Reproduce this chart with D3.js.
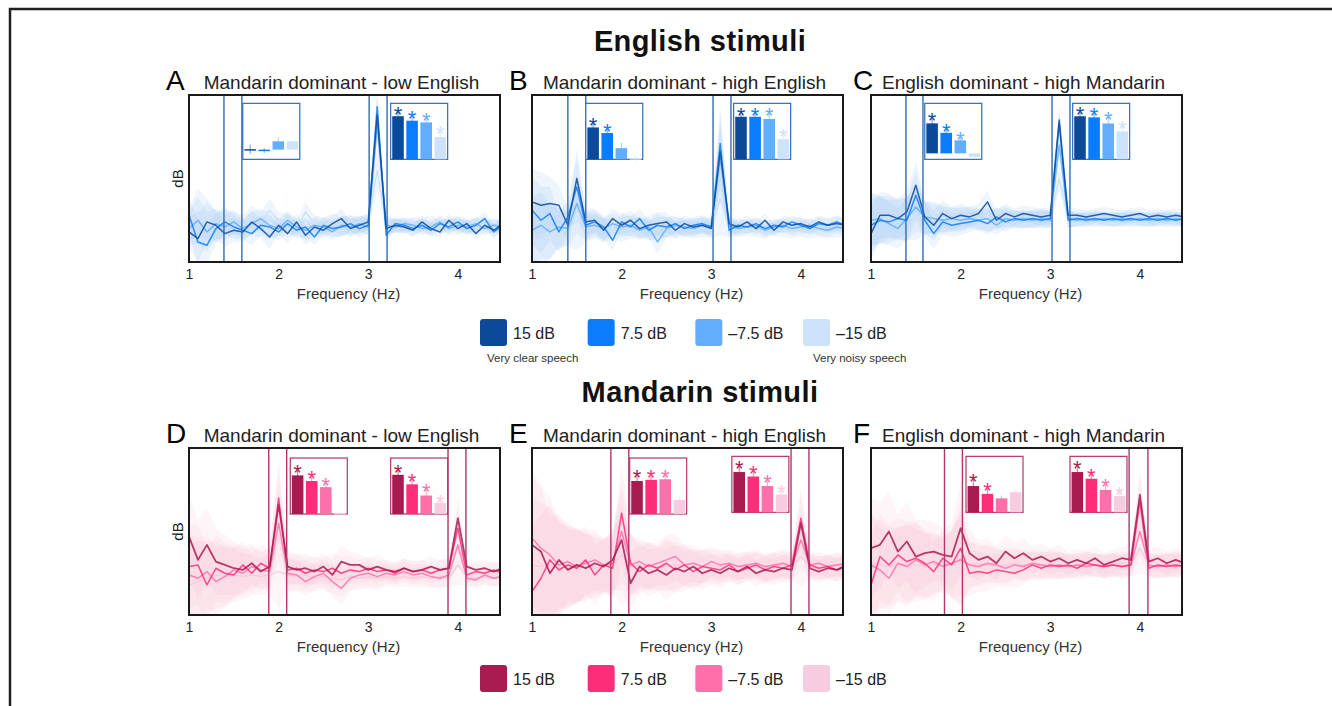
<!DOCTYPE html>
<html>
<head>
<meta charset="utf-8">
<script src="https://cdn.jsdelivr.net/npm/d3@7"></script>
<style>
  body { margin: 0; background: #fff; }
  svg { display: block; font-family: 'Liberation Sans', Arial, sans-serif; }
</style>
</head>
<body>
<svg id="chart" width="1332" height="706"></svg>
<script>
'use strict';

// frequency grid (Hz) shared by every spectrum
const freqs = [1.0, 1.1, 1.2, 1.3, 1.4, 1.5, 1.6, 1.7, 1.8, 1.9, 2.0, 2.1, 2.2, 2.3, 2.4, 2.5, 2.6, 2.7,
  2.8, 2.9, 3.0, 3.1, 3.2, 3.3, 3.4, 3.5, 3.6, 3.7, 3.8, 3.9, 4.0, 4.1, 4.2, 4.3, 4.4, 4.5];
const xTicks = [1, 2, 3, 4];
const levels = ['15 dB', '7.5 dB', '–7.5 dB', '–15 dB'];
const blues = ['#0b4a99', '#0a7cff', '#62aefc', '#cde3fb'];
const pinks = ['#a81b50', '#fe2d79', '#ff70ab', '#f8cce0'];
const panelLetters = ['A', 'B', 'C', 'D', 'E', 'F'];
const panelTitles = ['Mandarin dominant - low English', 'Mandarin dominant - high English',
  'English dominant - high Mandarin'];
const rowTitles = ['English stimuli', 'Mandarin stimuli'];

// rows: 15 dB, 7.5 dB, -7.5 dB, -15 dB (arbitrary dB units, 0-100 = plot height)
const spectrumA = [
  [18, 14, 24, 22, 17, 19, 18, 24, 20, 15, 22, 17, 24, 16, 21, 19, 23, 26, 20, 22, 24, 88, 20, 22, 21, 19, 24, 20, 18, 25, 20, 23, 17, 22, 19, 23],
  [28, 12, 10, 20, 24, 21, 19, 17, 22, 21, 18, 23, 19, 21, 15, 22, 20, 21, 23, 20, 22, 93, 16, 23, 22, 20, 22, 19, 23, 21, 24, 20, 22, 26, 18, 22],
  [20, 25, 18, 23, 21, 24, 20, 23, 26, 22, 20, 25, 21, 19, 22, 21, 18, 22, 21, 23, 21, 82, 22, 21, 23, 22, 20, 21, 24, 20, 22, 21, 23, 20, 22, 21],
  [22, 30, 26, 21, 25, 23, 22, 27, 24, 31, 25, 23, 20, 30, 23, 22, 24, 21, 23, 22, 24, 55, 23, 22, 21, 23, 22, 24, 21, 22, 23, 21, 22, 23, 21, 22]];
const semA = [10, 14, 12, 9, 8, 7, 6, 7, 6, 7, 5, 6, 5, 6, 5, 5, 5, 6, 5, 5, 5, 12, 5, 4, 4, 4, 4, 4, 4, 4, 4, 4, 4, 4, 4, 4];

const spectrumB = [
  [36, 34, 35, 34, 22, 50, 24, 25, 19, 26, 22, 25, 20, 22, 23, 24, 19, 23, 21, 22, 20, 66, 23, 21, 24, 20, 25, 19, 24, 22, 23, 21, 24, 22, 23, 22],
  [31, 25, 29, 18, 27, 45, 22, 24, 21, 13, 24, 21, 26, 19, 22, 21, 23, 20, 22, 23, 21, 71, 19, 22, 21, 23, 20, 22, 21, 24, 22, 20, 23, 22, 24, 22],
  [19, 22, 18, 21, 20, 35, 21, 22, 20, 23, 21, 22, 19, 21, 12, 20, 22, 21, 20, 22, 21, 62, 22, 20, 21, 22, 19, 21, 22, 20, 21, 22, 20, 19, 21, 20],
  [13, 16, 18, 20, 19, 25, 20, 21, 19, 20, 18, 20, 21, 19, 20, 21, 19, 20, 19, 20, 19, 38, 20, 19, 20, 19, 18, 20, 19, 18, 19, 18, 19, 18, 19, 18]];
const semB = [20, 20, 16, 12, 10, 18, 8, 7, 7, 6, 6, 6, 6, 6, 7, 6, 5, 5, 5, 5, 5, 22, 5, 4, 4, 4, 4, 4, 4, 4, 4, 4, 4, 4, 4, 4];

const spectrumC = [
  [17, 28, 28, 26, 30, 46, 27, 22, 29, 26, 28, 27, 29, 36, 25, 29, 27, 29, 28, 27, 28, 85, 28, 28, 27, 28, 29, 28, 27, 28, 29, 27, 28, 27, 28, 27],
  [22, 25, 24, 26, 25, 40, 25, 17, 24, 22, 23, 24, 25, 23, 27, 24, 26, 25, 26, 25, 26, 83, 25, 26, 25, 26, 25, 26, 25, 26, 25, 26, 25, 26, 25, 26],
  [25, 26, 23, 20, 26, 33, 27, 26, 25, 26, 25, 26, 25, 26, 22, 26, 25, 26, 25, 26, 25, 70, 26, 25, 26, 25, 26, 25, 26, 25, 26, 25, 26, 25, 26, 25],
  [26, 25, 27, 25, 26, 28, 26, 27, 26, 25, 26, 27, 26, 25, 26, 27, 26, 25, 26, 27, 26, 50, 26, 25, 26, 27, 26, 25, 26, 27, 26, 25, 26, 27, 26, 25]];
const semC = [16, 14, 13, 12, 13, 15, 10, 9, 8, 7, 7, 6, 6, 7, 6, 6, 5, 5, 5, 5, 5, 8, 5, 4, 4, 4, 4, 4, 4, 4, 4, 4, 4, 4, 4, 4];

const spectrumD = [
  [47, 33, 42, 32, 30, 28, 27, 31, 26, 29, 66, 29, 27, 28, 26, 29, 24, 32, 30, 30, 27, 29, 27, 26, 28, 26, 27, 29, 27, 28, 58, 29, 27, 28, 26, 28],
  [29, 30, 18, 28, 25, 24, 30, 25, 31, 28, 70, 27, 28, 25, 27, 26, 28, 25, 27, 26, 28, 26, 27, 25, 28, 26, 27, 25, 27, 28, 52, 24, 26, 25, 27, 25],
  [24, 22, 26, 20, 23, 27, 25, 29, 27, 26, 55, 25, 24, 20, 23, 25, 20, 16, 22, 24, 25, 23, 25, 24, 26, 24, 25, 23, 22, 24, 42, 22, 21, 24, 22, 23],
  [18, 20, 22, 24, 23, 24, 23, 24, 23, 24, 26, 24, 23, 24, 22, 23, 22, 21, 23, 22, 23, 22, 23, 22, 23, 22, 23, 22, 23, 22, 30, 23, 22, 23, 22, 23]];
const semD = [25, 24, 22, 20, 18, 16, 14, 12, 11, 12, 22, 10, 9, 9, 8, 8, 9, 10, 8, 7, 7, 7, 6, 6, 6, 6, 6, 6, 6, 6, 12, 5, 5, 5, 5, 5];

const spectrumE = [
  [42, 38, 25, 33, 27, 30, 28, 31, 29, 33, 45, 19, 29, 25, 27, 24, 28, 26, 29, 25, 27, 25, 28, 26, 29, 25, 27, 26, 28, 27, 55, 28, 26, 28, 27, 29],
  [14, 22, 33, 27, 30, 28, 33, 24, 30, 28, 61, 31, 26, 30, 28, 31, 27, 30, 26, 29, 28, 27, 30, 26, 28, 30, 27, 29, 28, 30, 58, 30, 28, 29, 27, 30],
  [46, 40, 36, 30, 32, 29, 31, 33, 30, 31, 50, 30, 32, 29, 31, 33, 35, 30, 31, 29, 32, 30, 31, 29, 30, 31, 29, 30, 31, 29, 45, 30, 31, 29, 30, 31],
  [30, 29, 30, 28, 29, 30, 29, 28, 29, 30, 36, 29, 30, 29, 28, 29, 30, 29, 28, 29, 30, 29, 28, 29, 30, 29, 28, 29, 30, 29, 35, 29, 28, 29, 30, 29]];
const semE = [40, 38, 34, 28, 24, 22, 20, 18, 16, 18, 30, 18, 14, 14, 13, 15, 14, 12, 11, 10, 9, 9, 8, 8, 8, 8, 8, 8, 8, 8, 18, 7, 7, 7, 7, 7];

const spectrumF = [
  [40, 42, 50, 38, 44, 35, 37, 38, 36, 35, 52, 37, 33, 35, 31, 38, 34, 37, 33, 35, 32, 34, 31, 33, 31, 34, 30, 32, 34, 33, 72, 32, 34, 31, 33, 31],
  [18, 35, 30, 36, 32, 34, 31, 26, 34, 30, 40, 25, 26, 25, 27, 26, 25, 27, 30, 28, 30, 29, 30, 28, 31, 30, 29, 30, 29, 30, 68, 28, 30, 29, 30, 29],
  [30, 27, 22, 31, 29, 33, 30, 32, 29, 31, 33, 30, 29, 31, 30, 28, 30, 29, 31, 30, 29, 30, 29, 30, 29, 30, 29, 30, 29, 30, 50, 30, 29, 30, 29, 30],
  [31, 30, 29, 30, 31, 30, 29, 30, 31, 30, 34, 30, 31, 30, 29, 30, 31, 30, 29, 30, 31, 30, 29, 30, 31, 30, 29, 30, 31, 30, 40, 30, 29, 30, 31, 30]];
const semF = [30, 26, 24, 22, 24, 22, 20, 18, 16, 20, 28, 14, 12, 11, 10, 10, 9, 9, 8, 8, 8, 8, 7, 7, 7, 7, 7, 7, 7, 7, 15, 7, 7, 7, 7, 7];

// analysis windows (Hz) marked on each panel
const windowsA = [[1.39, 1.59], [3.01, 3.21]];
const windowsB = [[1.40, 1.60], [3.02, 3.22]];
const windowsC = [[1.39, 1.58], [3.02, 3.22]];
const windowsD = [[1.89, 2.09], [3.89, 4.09]];
const windowsE = [[1.88, 2.08], [3.89, 4.09]];
const windowsF = [[1.82, 2.02], [3.88, 4.09]];

// inset bar charts: one per window, value per SNR level (inset height = 1)
const barsA = [[0.01, -0.02, 0.18, 0.18], [0.77, 0.69, 0.66, 0.40]];
const barsB = [[0.57, 0.47, 0.20, 0.02], [0.76, 0.76, 0.72, 0.36]];
const barsC = [[0.60, 0.41, 0.26, -0.07], [0.77, 0.75, 0.64, 0.50]];
const barsD = [[0.69, 0.59, 0.48, 0.02], [0.70, 0.53, 0.33, 0.20]];
const barsE = [[0.59, 0.61, 0.62, 0.25], [0.72, 0.64, 0.47, 0.32]];
const barsF = [[0.47, 0.33, 0.25, 0.36], [0.72, 0.60, 0.40, 0.29]];
const errA = [[0.10, 0.05, 0.08, 0.03], [0.08, 0.08, 0.08, 0.10]];
const errB = [[0.08, 0.08, 0.10, 0.05], [0.07, 0.07, 0.10, 0.10]];
const errC = [[0.10, 0.08, 0.07, 0.03], [0.07, 0.08, 0.12, 0.10]];
const errD = [[0.10, 0.08, 0.07, 0.02], [0.08, 0.10, 0.12, 0.05]];
const errE = [[0.10, 0.08, 0.08, 0.05], [0.10, 0.10, 0.10, 0.08]];
const errF = [[0.12, 0.10, 0.05, 0.05], [0.10, 0.08, 0.10, 0.08]];
const starsA = [[0, 0, 0, 0], [1, 1, 1, 1]];
const starsB = [[1, 1, 0, 0], [1, 1, 1, 1]];
const starsC = [[1, 1, 1, 0], [1, 1, 1, 1]];
const starsD = [[1, 1, 1, 0], [1, 1, 1, 1]];
const starsE = [[1, 1, 1, 0], [1, 1, 1, 1]];
const starsF = [[1, 1, 0, 0], [1, 1, 1, 1]];
const barFloors = [[-0.21, 0], [0, 0], [-0.12, 0], [0, 0], [0, 0], [0, 0]];
// inset anchor: [left edge in Hz, top edge in plot units]
const insetPosTop = [[1.60, 95], [3.25, 95]];
const insetPosD = [[2.13, 94], [3.25, 94]];
const insetPosE = [[2.09, 94], [3.23, 95]];
const insetPosF = [[2.06, 95], [3.22, 95]];

class stimuliFigure {
  constructor(svg) {
    this.svg = svg;
    this.width = 311;
    this.height = 167;
    this.insetW = 57;
    this.insetH = 56;
    this.colLeft = [189, 532, 871];
    this.rowTop = [95, 448];
  }

  drawFrame() {
    this.svg.append('path')
      .attr('d', 'M10,706V9H1332')
      .attr('fill', 'none')
      .attr('stroke', '#231f20')
      .attr('stroke-width', 2.5);

    this.svg.selectAll('text.row-title')
      .data(rowTitles)
      .enter()
      .append('text')
      .attr('class', 'row-title')
      .attr('x', 700)
      .attr('y', (d, i) => i === 0 ? 51 : 402)
      .attr('text-anchor', 'middle')
      .style('font-size', '29px')
      .style('font-weight', 'bold')
      .style('letter-spacing', '0.4px')
      .attr('fill', '#111')
      .text(d => d);
  }

  drawPanel(p, col, row) {
    const palette = row === 0 ? blues : pinks;
    const edge = row === 0 ? '#2f6db5' : '#b3366a';
    const bandFill = row === 0 ? '#8fbff0' : '#f29bbf';
    const bandAlpha = row === 0 ? 0.15 : 0.1;
    const left = this.colLeft[col];
    const top = this.rowTop[row];
    const g = this.svg.append('g')
      .attr('transform', 'translate(' + left + ',' + top + ')');

    const x = d3.scaleLinear().domain([1, 4.47]).range([0, this.width]);
    const y = d3.scaleLinear().domain([0, 100]).range([this.height, 0]);

    const clipId = 'clip-' + p.letter;
    g.append('clipPath').attr('id', clipId)
      .append('rect')
      .attr('width', this.width)
      .attr('height', this.height);
    const plot = g.append('g').attr('clip-path', 'url(#' + clipId + ')');

    const band = d3.area()
      .x((d, i) => x(freqs[i]))
      .y0((d, i) => y(d - p.sem[i]))
      .y1((d, i) => y(d + p.sem[i]));
    const line = d3.line()
      .x((d, i) => x(freqs[i]))
      .y(d => y(d));
    const order = [3, 2, 1, 0];

    plot.selectAll('path.band')
      .data(order)
      .enter()
      .append('path')
      .attr('class', 'band')
      .attr('d', k => band(p.lines[k]))
      .attr('fill', bandFill)
      .attr('fill-opacity', bandAlpha);

    plot.selectAll('path.trace')
      .data(order)
      .enter()
      .append('path')
      .attr('class', 'trace')
      .attr('d', k => line(p.lines[k]))
      .attr('fill', 'none')
      .attr('stroke', k => palette[k])
      .attr('stroke-opacity', k => k === 3 ? 1 : 0.85)
      .attr('stroke-width', k => (row === 1 && k === 0) ? 1.8 : 1.5)
      .attr('stroke-linejoin', 'round');

    g.selectAll('rect.window')
      .data(p.windows)
      .enter()
      .append('rect')
      .attr('class', 'window')
      .attr('x', d => x(d[0]))
      .attr('y', 0)
      .attr('width', d => x(d[1]) - x(d[0]))
      .attr('height', this.height)
      .attr('fill', 'none')
      .attr('stroke', edge)
      .attr('stroke-width', 1.4);

    p.insetPos.forEach((pos, k) => {
      this.drawInset(g, x(pos[0]), y(pos[1]), p.bars[k], p.err[k], p.stars[k], p.floor[k], palette, edge);
    });

    g.append('rect')
      .attr('width', this.width)
      .attr('height', this.height)
      .attr('fill', 'none')
      .attr('stroke', '#1a1a1a')
      .attr('stroke-width', 2);

    const xAxis = d3.axisBottom(x)
      .tickValues(xTicks)
      .tickFormat(d3.format('d'))
      .tickSize(0)
      .tickPadding(7);
    const axisG = g.append('g')
      .attr('transform', 'translate(0,' + this.height + ')')
      .call(xAxis);
    axisG.select('.domain').remove();
    axisG.selectAll('text')
      .style('font-size', '14px')
      .style('font-family', 'Liberation Sans, Arial, sans-serif')
      .attr('fill', '#222');

    g.append('text')
      .attr('x', this.width / 2 + 4)
      .attr('y', this.height + 37)
      .attr('text-anchor', 'middle')
      .style('font-size', '15px')
      .attr('fill', '#333')
      .text('Frequency (Hz)');

    if (col === 0) {
      g.append('text')
        .attr('transform', 'translate(-6,' + (this.height / 2) + ') rotate(-90)')
        .attr('text-anchor', 'middle')
        .style('font-size', '15px')
        .attr('fill', '#222')
        .text('dB');
    }

    g.append('text')
      .attr('x', col === 2 ? -18 : -23)
      .attr('y', -5)
      .style('font-size', '28px')
      .attr('fill', '#000')
      .text(p.letter);

    g.append('text')
      .attr('x', this.width / 2 - 3)
      .attr('y', -6)
      .attr('text-anchor', 'middle')
      .style('font-size', '19px')
      .attr('fill', '#222')
      .text(p.title);
  }

  drawInset(g, left, top, vals, errs, stars, floor, palette, edge) {
    const inset = g.append('g')
      .attr('transform', 'translate(' + left + ',' + top + ')');
    const ix = d3.scaleBand()
      .domain(d3.range(vals.length))
      .range([1, this.insetW - 1])
      .paddingInner(0.18)
      .paddingOuter(0.04);
    const iy = d3.scaleLinear().domain([floor, 1]).range([this.insetH, 0]);
    const bars = vals.map((v, i) => ({i: i, v: v, e: errs[i], star: stars[i]}));

    inset.append('rect')
      .attr('width', this.insetW)
      .attr('height', this.insetH)
      .attr('fill', '#fff')
      .attr('stroke', edge)
      .attr('stroke-width', 1.2);

    inset.selectAll('line.err')
      .data(bars)
      .enter()
      .append('line')
      .attr('class', 'err')
      .attr('x1', d => ix(d.i) + ix.bandwidth() / 2)
      .attr('x2', d => ix(d.i) + ix.bandwidth() / 2)
      .attr('y1', d => iy(d.v - d.e))
      .attr('y2', d => iy(d.v + d.e))
      .attr('stroke', d => palette[d.i])
      .attr('stroke-opacity', 0.6)
      .attr('stroke-width', 1);

    inset.selectAll('rect.bar')
      .data(bars)
      .enter()
      .append('rect')
      .attr('class', 'bar')
      .attr('x', d => ix(d.i))
      .attr('y', d => iy(Math.max(d.v, 0)))
      .attr('width', ix.bandwidth())
      .attr('height', d => Math.max(1.5, Math.abs(iy(d.v) - iy(0))))
      .attr('fill', d => palette[d.i]);

    inset.selectAll('text.star')
      .data(bars.filter(d => d.star === 1))
      .enter()
      .append('text')
      .attr('class', 'star')
      .attr('x', d => ix(d.i) + ix.bandwidth() / 2)
      .attr('y', d => iy(d.v + d.e) + 10)
      .attr('text-anchor', 'middle')
      .style('font-size', '22px')
      .attr('fill', d => palette[d.i])
      .text('*');
  }

  drawLegend(top, palette, notes) {
    const lx = d3.scalePoint().domain(levels).range([480, 803]);
    const legend = this.svg.append('g');

    legend.selectAll('rect')
      .data(levels)
      .enter()
      .append('rect')
      .attr('x', d => lx(d))
      .attr('y', top)
      .attr('width', 27)
      .attr('height', 27)
      .attr('rx', 3)
      .attr('fill', (d, i) => palette[i]);

    legend.selectAll('text.legend-label')
      .data(levels)
      .enter()
      .append('text')
      .attr('class', 'legend-label')
      .attr('x', d => lx(d) + 33)
      .attr('y', top + 20)
      .style('font-size', '16px')
      .attr('fill', '#222')
      .text(d => d);

    if (notes) {
      legend.append('text')
        .attr('x', 487)
        .attr('y', top + 43)
        .style('font-size', '11.5px')
        .attr('fill', '#333')
        .text('Very clear speech');
      legend.append('text')
        .attr('x', 813)
        .attr('y', top + 43)
        .style('font-size', '11.5px')
        .attr('fill', '#333')
        .text('Very noisy speech');
    }
  }
}

const panels = [
  {lines: spectrumA, sem: semA, windows: windowsA, bars: barsA, err: errA, stars: starsA, insetPos: insetPosTop},
  {lines: spectrumB, sem: semB, windows: windowsB, bars: barsB, err: errB, stars: starsB, insetPos: insetPosTop},
  {lines: spectrumC, sem: semC, windows: windowsC, bars: barsC, err: errC, stars: starsC, insetPos: insetPosTop},
  {lines: spectrumD, sem: semD, windows: windowsD, bars: barsD, err: errD, stars: starsD, insetPos: insetPosD},
  {lines: spectrumE, sem: semE, windows: windowsE, bars: barsE, err: errE, stars: starsE, insetPos: insetPosE},
  {lines: spectrumF, sem: semF, windows: windowsF, bars: barsF, err: errF, stars: starsF, insetPos: insetPosF}
];
panels.forEach((p, i) => {
  p.letter = panelLetters[i];
  p.title = panelTitles[i % 3];
  p.floor = barFloors[i];
});

const figure = new stimuliFigure(d3.select('#chart'));
figure.drawFrame();
panels.forEach((p, i) => figure.drawPanel(p, i % 3, Math.floor(i / 3)));
figure.drawLegend(319, blues, true);
figure.drawLegend(665, pinks, false);
</script>
</body>
</html>
